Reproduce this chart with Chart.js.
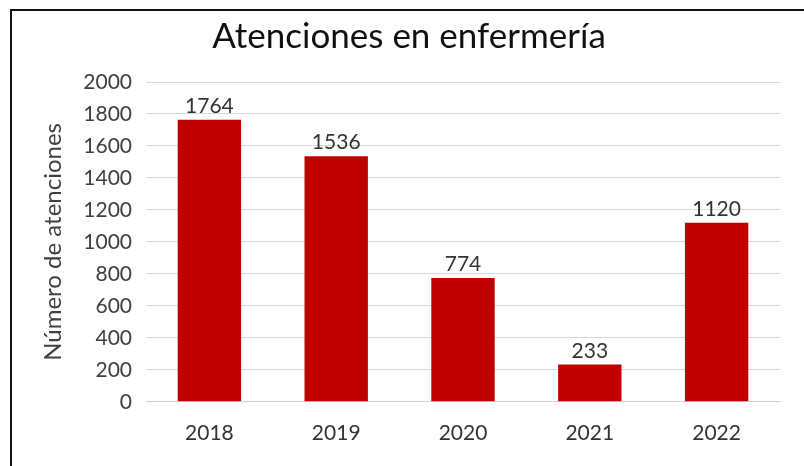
<!DOCTYPE html>
<html>
<head>
<meta charset="utf-8">
<script src="https://cdn.jsdelivr.net/npm/chart.js@4"></script>
<style>
  html, body { margin: 0; padding: 0; background: #fff; }
  #wrap { position: relative; width: 804px; height: 466px; }
  #frame {
    position: absolute; left: 10px; top: 9px; right: 0; bottom: 0;
    border-top: 2px solid #111; border-left: 2px solid #111;
    pointer-events: none;
  }
  canvas { position: absolute; left: 0; top: 0; }
</style>
</head>
<body>
<div id="wrap">
  <canvas id="chart" width="804" height="466"></canvas>
  <div id="frame"></div>
</div>
<script>
// ---- data ----
const years = ['2018', '2019', '2020', '2021', '2022'];
const atenciones = [1764, 1536, 774, 233, 1120];
const yTicks = [0, 200, 400, 600, 800, 1000, 1200, 1400, 1600, 1800, 2000];

const FONT = 'Lato, "Open Sans", sans-serif';

// labels above each bar
const barValues = {
  id: 'barValues',
  afterDatasetsDraw(chart) {
    const ctx = chart.ctx;
    const meta = chart.getDatasetMeta(0);
    ctx.save();
    ctx.font = '21px ' + FONT;
    ctx.fillStyle = '#333';
    ctx.textAlign = 'center';
    ctx.textBaseline = 'bottom';
    meta.data.forEach((bar, i) => {
      ctx.fillText(String(atenciones[i]), bar.x, bar.y - 3);
    });
    ctx.restore();
  }
};

new Chart(document.getElementById('chart'), {
  type: 'bar',
  data: {
    labels: years,
    datasets: [{
      label: 'Atenciones',
      data: atenciones,
      backgroundColor: '#c00000',
      borderWidth: 0,
      barPercentage: 0.5,
      categoryPercentage: 1.0,
    }]
  },
  options: {
    responsive: false,
    animation: false,
    layout: { padding: { left: 38, right: 24, top: 0, bottom: 1 } },
    plugins: {
      legend: { display: false },
      tooltip: { enabled: false },
      title: {
        display: true,
        text: 'Atenciones en enfermería',
        color: '#111',
        font: { family: FONT, size: 35, weight: 'normal' },
        padding: { top: 16, bottom: 24 },
      }
    },
    scales: {
      x: {
        grid: { display: false, drawTicks: false },
        border: { color: '#d0d0d0' },
        ticks: { color: '#333', font: { family: FONT, size: 21 }, padding: 19 },
      },
      y: {
        min: 0,
        max: 2000,
        afterBuildTicks: s => { s.ticks = yTicks.map(v => ({ value: v })); },
        afterFit: s => { s.width = 108; },
        grid: { color: '#d9d9d9', drawTicks: false },
        border: { display: false },
        ticks: {
          color: '#404040',
          font: { family: FONT, size: 21 },
          padding: 14,
          callback: v => String(v),
        },
        title: {
          display: true,
          text: 'Número de atenciones',
          color: '#404040',
          font: { family: FONT, size: 24 },
          padding: { top: 1, bottom: 0 },
        }
      }
    }
  },
  plugins: [barValues]
});
</script>
</body>
</html>
